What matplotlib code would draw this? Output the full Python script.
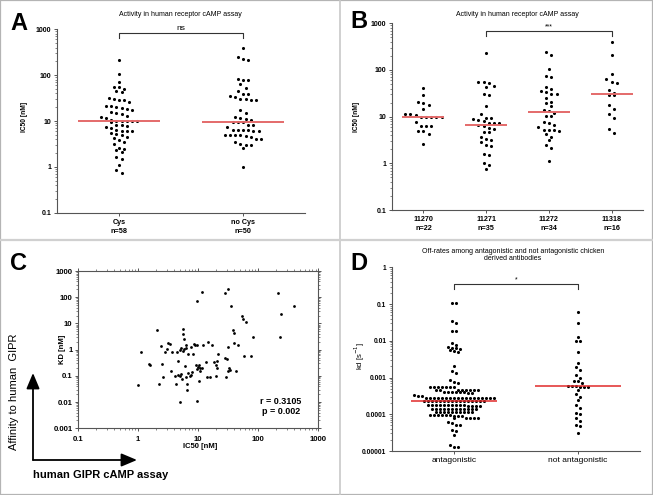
import numpy as np
import matplotlib
matplotlib.use('Agg')
import matplotlib.pyplot as plt
import matplotlib.ticker as mticker
from matplotlib.patches import FancyArrowPatch, Rectangle
from matplotlib.lines import Line2D

plt.rcParams['font.family'] = ['Liberation Sans', 'DejaVu Sans']

# ---------------- data ----------------
A_CATS = ['Cys\nn=58', 'no Cys\nn=50']
A_CYS = [210, 105, 72, 56, 55, 50, 44, 43, 31, 30, 29, 28, 26, 21, 21, 20, 19.5, 18, 17, 16,
         15, 14.5, 13, 12, 11.5, 10.5, 10, 10, 10, 10, 10, 9.5, 8, 8, 7.8, 7.5, 7, 6.5, 6, 6,
         6, 5.6, 5.2, 5, 4.5, 4.2, 3.8, 3.4, 3.1, 2.6, 2.5, 2.3, 2.1, 1.6, 1.5, 1.1, 0.85, 0.75]
A_NOCYS = [400, 245, 230, 210, 82, 80, 78, 65, 53, 44, 39, 38, 35, 33, 30, 30, 29, 29, 17, 15,
           12, 11.5, 11, 10.5, 9.5, 9.5, 9.3, 8, 8, 7.5, 6.5, 6.5, 6.5, 6.3, 6.2, 6, 5, 5, 5,
           4.9, 4.8, 4.5, 4, 4, 3.5, 3.2, 3, 3, 2.6, 1.0]
A_MEDIANS = [10, 9.5]

B_CATS = ['11270\nn=22', '11271\nn=35', '11272\nn=34', '11318\nn=16']
B_11270 = [42, 29, 21, 19.5, 18, 14.5, 11.5, 11, 10, 10, 10, 10, 10, 11.5, 7.6, 6.3, 6.3, 6.3,
           5, 5, 4.2, 2.6]
B_11271 = [228, 56, 55, 53, 46, 44, 31, 29, 17, 11.5, 9.5, 9.5, 9, 8.5, 8, 7.4, 7.4, 7.4, 6.6,
           6.4, 5.8, 5.4, 4.8, 4.6, 3.7, 3.3, 3.1, 2.8, 2.5, 2.3, 1.6, 1.5, 1.0, 0.9, 0.75]
B_11272 = [240, 210, 105, 76, 72, 44, 39, 35, 33, 30, 30, 25, 21, 20, 17, 14, 13, 12, 10.5,
           10.5, 7.7, 7.2, 6.6, 6, 5.2, 5.2, 5.2, 5, 4.2, 3.7, 3.2, 2.5, 2.1, 1.1]
B_11318 = [392, 210, 81, 64, 56, 52, 37, 32, 29, 29, 18, 14.5, 11.5, 9.5, 5.4, 4.4]
B_MEDIANS = [10, 6.5, 12.5, 30]

IC50_TICKLABELS = ['0.1', '1', '10', '100', '1000']
IC50_TICKS = [0.1, 1, 10, 100, 1000]

C_IC50 = [1.0, 1.1, 1.5, 1.6, 2.1, 2.2, 2.4, 2.5, 2.6, 2.8, 3.0, 3.2, 3.4, 3.6, 3.7, 4.1, 4.2,
          4.5, 4.6, 4.7, 4.9, 5.0, 5.0, 5.1, 5.2, 5.3, 5.5, 5.5, 5.6, 5.8, 5.9, 6.1, 6.2, 6.3,
          6.3, 6.5, 6.6, 6.7, 6.9, 7.3, 7.5, 7.6, 8.0, 8.2, 8.4, 9.0, 9.2, 9.4, 9.6, 9.6, 9.7,
          10.0, 10.2, 10.4, 10.6, 10.9, 11.5, 11.8, 12.0, 13.5, 14.0, 14.5, 15.5, 17.0, 18.5,
          19.5, 20.0, 20.3, 20.5, 21.0, 28.0, 28.5, 29.0, 30.0, 31.0, 31.5, 32.0, 32.5, 33.5,
          35.0, 38.0, 39.0, 40.0, 42.0, 46.0, 53.0, 56.0, 57.0, 63.0, 76.0, 82.0, 215.0, 228.0,
          240.0, 400.0]
C_KD = [0.045, 0.8, 0.28, 0.26, 5.8, 0.05, 1.4, 0.29, 0.09, 0.85, 1.05, 1.8, 1.6, 0.16, 0.8,
        0.1, 0.05, 0.8, 0.37, 0.11, 1.0, 0.01, 0.1, 0.12, 1.2, 0.075, 6.3, 4.0, 0.9, 1.1, 2.6,
        0.24, 1.2, 1.5, 0.09, 0.05, 0.028, 0.7, 0.13, 0.1, 1.3, 0.11, 0.14, 0.7, 1.6, 1.5, 0.27,
        0.18, 70, 0.011, 1.5, 0.22, 0.25, 0.065, 0.15, 0.2, 0.2, 155, 1.5, 0.33, 0.09, 2.0, 0.09,
        1.5, 0.33, 0.25, 0.1, 0.2, 0.37, 0.7, 0.5, 150, 0.09, 0.45, 1.3, 205, 0.15, 0.2, 0.17,
        45, 5.5, 4.2, 1.8, 0.15, 1.5, 20, 15, 0.58, 11, 0.58, 3.0, 150, 3.0, 22, 47]
C_XTICKLABELS = ['0.1', '1', '10', '100', '1000']
C_YTICKLABELS = ['0.001', '0.01', '0.1', '1', '10', '100', '1000']

D_CATS = ['antagonistic', 'not antagonistic']
D_ANT = [0.11, 0.105, 0.035, 0.030, 0.018, 0.018, 0.0085, 0.0075, 0.0068, 0.0065, 0.0062,
         0.0060, 0.0056, 0.0052, 0.0050, 0.0020, 0.0015, 0.0013, 0.00083, 0.00075, 0.00072,
         0.00056, 0.00055, 0.00055, 0.00054, 0.00055, 0.00056, 0.00054,
         0.00047, 0.00047, 0.00047, 0.00046, 0.00047, 0.00047, 0.00046, 0.00047,
         0.00040, 0.00040, 0.00040, 0.00039, 0.00040, 0.00040, 0.00039, 0.00040,
         0.00033, 0.00032, 0.00032,
         0.000285, 0.000285, 0.00028, 0.000285, 0.00028, 0.000285, 0.00028, 0.000285, 0.00028,
         0.000285, 0.00028, 0.000285, 0.00028, 0.000285, 0.00028, 0.000285, 0.00028, 0.000285,
         0.00023, 0.00023, 0.000225, 0.00023, 0.00023, 0.000225, 0.00023, 0.00023, 0.000225,
         0.00023, 0.00023, 0.000225, 0.00023, 0.00023, 0.000225, 0.00023,
         0.000175, 0.000175, 0.00017, 0.000175, 0.000175, 0.00017, 0.000175, 0.000175, 0.00017,
         0.000175, 0.000175, 0.00017, 0.000175, 0.000175,
         0.00014, 0.00014, 0.000138, 0.00014, 0.000138, 0.00014, 0.000138, 0.00014, 0.000138,
         0.00014, 0.000138, 0.00014,
         0.000115, 0.000113, 0.000115, 0.000113, 0.000115, 0.000113, 0.000115, 0.000113,
         0.000115, 0.000113,
         0.000093, 0.000092, 0.000093, 0.000093, 0.000092, 0.000093, 0.000093, 0.000092,
         0.000093,
         0.000078, 0.000078, 0.000077, 0.000078, 0.000078,
         0.000060, 0.000057, 0.000052, 0.000050, 0.000038, 0.000034, 0.000028, 0.000015,
         0.000013, 0.000013]
D_NOT = [0.06, 0.03, 0.0125, 0.0101, 0.0099, 0.005, 0.0025, 0.0019, 0.0016, 0.0012, 0.001,
         0.00079, 0.00078, 0.00072, 0.0006, 0.00059, 0.00055, 0.00054, 0.00056, 0.00057,
         0.00047, 0.00035, 0.0003, 0.00024, 0.00018, 0.00015, 0.00011, 0.0001, 0.00008,
         0.000067, 0.000052, 0.000048, 0.000031]
D_MEDIANS = [0.000235, 0.00057]
D_TICKS = [0.00001, 0.0001, 0.001, 0.01, 0.1, 1]
D_TICKLABELS = ['0.00001', '0.0001', '0.001', '0.01', '0.1', '1']

# ---------------- figure ----------------
W, H = 653, 495
fig = plt.figure(figsize=(W / 100, H / 100), dpi=100)
AX = '#555555'


def fx(x):
    return x / W


def fy(y):
    return 1 - y / H


def add_ax(l, t, r, b):
    return fig.add_axes([fx(l), fy(b), (r - l) / W, (b - t) / H])


def row_swarm(ax, center, values, h, sp):
    """GraphPad-like scatter: values binned into pixel rows, spread horizontally."""
    vals = np.asarray(values, float)
    pts = ax.transData.transform(np.column_stack([np.full(len(vals), center), vals]))
    ys = pts[:, 1]
    order = np.argsort(-ys, kind='stable')
    rows = []
    start = None
    for i in order:
        if start is None or start - ys[i] > h:
            rows.append([i])
            start = ys[i]
        else:
            rows[-1].append(i)
    xs = np.zeros(len(vals))
    for r in rows:
        n = len(r)
        for k, i in enumerate(r):
            xs[i] = (k - (n - 1) / 2) * sp
    x0 = ax.transData.transform((center, 1))[0]
    x1 = ax.transData.transform((center + 1, 1))[0]
    return center + xs / (x1 - x0)


def style_cat(ax, ylim, yticks, yticklabels, cats, xsize, ysize):
    ax.set_yscale('log')
    ax.set_ylim(*ylim)
    ax.set_xlim(-0.5, len(cats) - 0.5)
    for s in ['top', 'right']:
        ax.spines[s].set_visible(False)
    for s in ['left', 'bottom']:
        ax.spines[s].set_color(AX)
        ax.spines[s].set_linewidth(0.8)
    ax.set_yticks(yticks)
    ax.set_yticklabels(yticklabels)
    ax.yaxis.set_minor_locator(mticker.LogLocator(base=10, subs=np.arange(2, 10), numticks=30))
    ax.yaxis.set_minor_formatter(mticker.NullFormatter())
    ax.set_xticks(range(len(cats)))
    ax.set_xticklabels(cats)
    ax.tick_params(axis='both', which='major', length=2.5, width=0.7, color=AX, pad=1.5)
    ax.tick_params(axis='y', which='minor', length=1.3, width=0.5, color=AX)
    ax.tick_params(axis='x', labelsize=xsize, pad=2)
    ax.tick_params(axis='y', labelsize=ysize)
    for lab in ax.get_xticklabels():
        lab.set_fontweight('bold')
        lab.set_linespacing(1.35)
    for lab in ax.get_yticklabels():
        lab.set_fontweight('bold')
    ax.patch.set_alpha(0)


def draw_groups(ax, groups, medians, h, sp, s, half, mcolor, mlw):
    for i, g in enumerate(groups):
        xs = row_swarm(ax, i, g, h, sp)
        ax.scatter(xs, g, s=s, c='black', linewidths=0, zorder=3, clip_on=False)
        ax.plot([i - half, i + half], [medians[i], medians[i]], color=mcolor, lw=mlw,
                zorder=4, solid_capstyle='butt')


def bracket(ax, x0, x1, ytop, ybot, text, ytext, size):
    ax.plot([x0, x0, x1, x1], [ybot, ytop, ytop, ybot], color='#333333', lw=0.8,
            clip_on=False, zorder=2)
    ax.text((x0 + x1) / 2, ytext, text, ha='center', va='bottom', fontsize=size)


# ---- borders ----
fig.add_artist(Rectangle((0, 0), 1, 1, transform=fig.transFigure, fill=False,
                         ec='#b4b4b4', lw=1.6))
fig.add_artist(Line2D([fx(340), fx(340)], [0, 1], color='#c8c8c8', lw=1.2))
fig.add_artist(Line2D([0, 1], [fy(239.5), fy(239.5)], color='#d0d0d0', lw=1.6))

# ---- panel letters ----
for letter, x, y in [('A', 10, 30), ('B', 350, 28), ('C', 10, 270), ('D', 350, 270)]:
    fig.text(fx(x), fy(y), letter, fontsize=17, fontweight='bold', ha='left', va='baseline')

# ---- Panel A ----
axA = add_ax(57, 29.3, 305, 212.7)
style_cat(axA, (0.1, 1000), IC50_TICKS, IC50_TICKLABELS, A_CATS, 5.2, 5.0)
draw_groups(axA, [A_CYS, A_NOCYS], A_MEDIANS, 4.5, 5.2, 5.0, 0.333, '#e46a6a', 1.4)
bracket(axA, 0, 1, 830, 645, 'ns', 880, 6)
fig.text(fx(180), fy(14), 'Activity in human receptor cAMP assay', fontsize=5,
         ha='center', va='center')
fig.text(fx(25), fy(117), 'IC50 [nM]', fontsize=4.8, fontweight='bold', rotation=90,
         ha='center', va='center')

# ---- Panel B ----
axB = add_ax(392, 23.3, 643, 210)
style_cat(axB, (0.1, 1000), IC50_TICKS, IC50_TICKLABELS, B_CATS, 5.2, 5.0)
draw_groups(axB, [B_11270, B_11271, B_11272, B_11318], B_MEDIANS, 4.5, 5.2, 5.0, 0.333,
            '#e46a6a', 1.4)
bracket(axB, 1, 3, 683, 535, '***', 720, 5)
fig.text(fx(517), fy(14), 'Activity in human receptor cAMP assay', fontsize=5,
         ha='center', va='center')
fig.text(fx(357), fy(117), 'IC50 [nM]', fontsize=4.8, fontweight='bold', rotation=90,
         ha='center', va='center')

# ---- Panel C ----
axC = add_ax(78, 271, 318.3, 428.3)
axC.set_xscale('log')
axC.set_yscale('log')
axC.set_xlim(0.1, 1000)
axC.set_ylim(0.001, 1000)
axC.scatter(C_IC50, C_KD, s=4.0, c='black', linewidths=0, zorder=3)
for s in axC.spines.values():
    s.set_color(AX)
    s.set_linewidth(0.8)
axC.set_xticks(IC50_TICKS)
axC.set_xticklabels(C_XTICKLABELS)
axC.set_yticks([0.001, 0.01, 0.1, 1, 10, 100, 1000])
axC.set_yticklabels(C_YTICKLABELS)
for axis in (axC.xaxis, axC.yaxis):
    axis.set_minor_locator(mticker.LogLocator(base=10, subs=np.arange(2, 10), numticks=30))
    axis.set_minor_formatter(mticker.NullFormatter())
axC.tick_params(which='both', top=True, right=True, color=AX)
axC.tick_params(which='major', length=2.5, width=0.7, labelsize=5.6, pad=1.5)
axC.tick_params(which='minor', length=1.3, width=0.5)
axC.tick_params(axis='x', which='major', pad=3)
for lab in axC.get_xticklabels() + axC.get_yticklabels():
    lab.set_fontweight('bold')
fig.text(fx(200), fy(447), 'IC50 [nM]', fontsize=5.5, fontweight='bold', ha='center',
         va='center')
fig.text(fx(63), fy(349), 'KD [nM]', fontsize=5.5, fontweight='bold', rotation=90,
         ha='center', va='center')
fig.text(fx(281), fy(401), 'r = 0.3105', fontsize=6.5, fontweight='bold', ha='center',
         va='center')
fig.text(fx(281), fy(412), 'p = 0.002', fontsize=6.5, fontweight='bold', ha='center',
         va='center')

fig.text(fx(14), fy(392), 'Affinity to human  GIPR', fontsize=8, rotation=90,
         ha='center', va='center')
fig.text(fx(33), fy(475), 'human GIPR cAMP assay', fontsize=8, fontweight='bold',
         ha='left', va='center')
arr_kw = dict(transform=fig.transFigure, arrowstyle='-|>,head_length=0.95,head_width=0.4',
              mutation_scale=10, lw=1.3, color='black', shrinkA=0, shrinkB=0)
fig.add_artist(FancyArrowPatch((fx(33), fy(460)), (fx(33), fy(373)), **arr_kw))
fig.add_artist(FancyArrowPatch((fx(33), fy(460)), (fx(137), fy(460)), **arr_kw))

# ---- Panel D ----
axD = add_ax(392, 267.3, 640, 451)
style_cat(axD, (0.00001, 1), D_TICKS, D_TICKLABELS, D_CATS, 6.0, 4.8)
for lab in axD.get_xticklabels():
    lab.set_fontweight('normal')
draw_groups(axD, [D_ANT, D_NOT], D_MEDIANS, 3.0, 4.0, 5.0, 0.35, '#e02a2a', 1.1)
bracket(axD, 0, 1, 0.35, 0.257, '*', 0.37, 5)
fig.text(fx(513), fy(251), 'Off-rates among antagonistic and not antagonistic chicken',
         fontsize=5, ha='center', va='center')
fig.text(fx(513), fy(259), 'derived antibodies', fontsize=5, ha='center', va='center')
fig.text(fx(360), fy(356), 'kd [s$^{-1}$]', fontsize=5.5, rotation=90, ha='center',
         va='center')

fig.savefig('out.png', dpi=100)
